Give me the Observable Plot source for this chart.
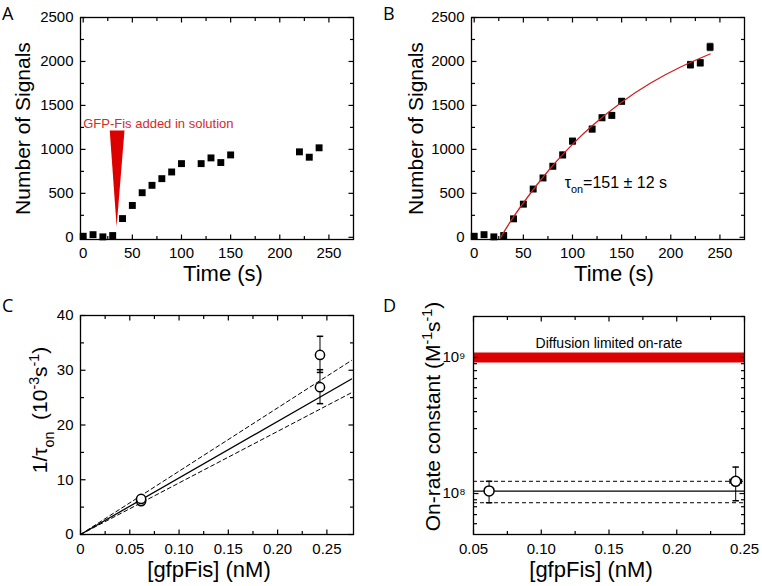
<!DOCTYPE html>
<html><head><meta charset="utf-8">
<script src="https://cdn.jsdelivr.net/npm/d3@7"></script>
<script src="https://cdn.jsdelivr.net/npm/@observablehq/plot@0.6"></script>
<style>
body{margin:0;background:#fff;}
#fig{position:relative;width:762px;height:586px;overflow:hidden;font-family:"Liberation Sans",Arial,sans-serif;background:#fff;}
#fig svg{position:absolute;overflow:visible;}
.letter{position:absolute;font-family:"Open Sans",sans-serif;font-size:18px;line-height:22px;color:#000;}
</style></head><body><div id="fig"></div>
<script>
// ---------- data ----------
const timeS = [0,10,20,30,40,50,60,70,80,90,100,120,130,140,150,220,230,240];
const signalsA = [12,30,5,20,213,362,507,591,667,743,838,838,903,850,937,972,911,1018];
const signalsB = [12,30,5,20,210,377,549,675,808,937,1094,1231,1360,1387,1547,1963,1985,2165];
const errB = [15,20,10,15,25,25,25,25,25,30,30,30,30,30,30,35,35,40];
const fitTimeB = [27,40,60,80,100,120,150,180,210,240];
const fitSignalsB = [0,232,541,817,1057,1270,1537,1758,1937,2085];
const arrowTime = [27,42,34];
const arrowSignals = [1215,1215,120];
const annotA = {text: ["GFP-Fis added in solution"], time: [0], signals: [1240]};
const annotB = {text: ["τ_{on}=151 ± 12 s"], time: [92], signals: [560]};

const concC = [0.0615, 0.0615, 0.243, 0.243];
const rateC = [6.1, 6.5, 32.8, 26.9];
const rateLoC = [5.5, 5.9, 29.6, 23.9];
const rateHiC = [6.7, 7.1, 36.2, 30.1];
const concErrC = [0.002, 0.002, 0.0015, 0.0015];
const fitConcC = [0, 0.275];
const fitMidC = [0, 28.4];
const fitUpperC = [0, 31.8];
const fitLowerC = [0, 25.9];

const concD = [0.0615, 0.2435];
const konD = [1.046e8, 1.229e8];
const konLoD = [0.856e8, 0.885e8];
const konHiD = [1.23e8, 1.565e8];
const concErrD = [0, 0.0042];
const konFitD = [1.04e8];
const konFitBoundsD = [1.23e8, 0.856e8];
const diffusionLimitD = [1e9];
const annotD = {text: ["Diffusion limited on-rate"], conc: [0.15], kon: [1e9]};

// ticks
const timeTicks = [0,50,100,150,200,250];
const timeMinor = [25,75,125,175,225];
const signalTicks = [0,500,1000,1500,2000,2500];
const signalMinor = [250,750,1250,1750,2250];
const concTicksC = [0,0.05,0.10,0.15,0.20,0.25];
const concMinorC = [0.025,0.075,0.125,0.175,0.225];
const rateTicks = [0,10,20,30,40];
const rateMinor = [5,15,25,35];
const concTicksD = [0.05,0.10,0.15,0.20,0.25];
const concMinorD = [0.075,0.125,0.175,0.225];
const konTicks = [1e8,1e9];
const konMinor = [6e7,7e7,8e7,9e7,2e8,3e8,4e8,5e8,6e8,7e8,8e8,9e8,2e9];
const konTickLabels = ["10⁸","10⁹"];

// ---------- helpers ----------
const RED = "#dc0000";
const capH = {draw(ctx, size){ const r = Math.sqrt(size/Math.PI); ctx.moveTo(-r,0); ctx.lineTo(r,0);} };
const capV = {draw(ctx, size){ const r = Math.sqrt(size/Math.PI); ctx.moveTo(0,-r); ctx.lineTo(0,r);} };
const stub = (ux, uy) => ({draw(ctx, size){ const l = Math.sqrt(size/Math.PI); ctx.moveTo(0,0); ctx.lineTo(ux*l, uy*l);} });
const tickUp = stub(0,-1), tickDown = stub(0,1), tickRight = stub(1,0), tickLeft = stub(-1,0);

function frameAxes({xMajor, xMinor, yMajor, yMinor, xFormat = d => String(d), yFormat = d => String(d), xPad = 8, yPad = 7}) {
  const st = {stroke: "black", strokeWidth: 1.2, fill: "none"};
  const xt = (ticks, len) => [
    Plot.dot(ticks, {x: d => d, frameAnchor: "bottom", symbol: tickUp, r: len, ...st}),
    Plot.dot(ticks, {x: d => d, frameAnchor: "top", symbol: tickDown, r: len, ...st})
  ];
  const yt = (ticks, len) => [
    Plot.dot(ticks, {y: d => d, frameAnchor: "left", symbol: tickRight, r: len, ...st}),
    Plot.dot(ticks, {y: d => d, frameAnchor: "right", symbol: tickLeft, r: len, ...st})
  ];
  return [
    ...xt(xMajor, 5), ...xt(xMinor, 3.5), ...yt(yMajor, 5), ...yt(yMinor, 3.5),
    Plot.axisX({anchor: "bottom", ticks: xMajor, tickSize: 0, tickPadding: xPad, tickFormat: xFormat, label: null, fill: "black", fontSize: 15}),
    Plot.axisY({anchor: "left", ticks: yMajor, tickSize: 0, tickPadding: yPad, tickFormat: yFormat, label: null, fill: "black", fontSize: 15}),
    Plot.frame({stroke: "black", strokeWidth: 1.3})
  ];
}
function xTitle(t, dx, dy) {
  return Plot.text([t], {frameAnchor: "bottom", lineAnchor: "bottom", textAnchor: "middle", dx, dy, fontSize: 22, fill: "black"});
}
function yTitle(t, dx, dy) {
  return Plot.text([t], {frameAnchor: "left", lineAnchor: "top", textAnchor: "middle", rotate: -90, dx, dy, fontSize: 21, fill: "black"});
}
const style = {fontFamily: "'Liberation Sans', Arial, sans-serif", fontSize: "15px", color: "black", background: "transparent", overflow: "visible"};

function richify(svg) {
  svg.querySelectorAll("text").forEach(t => {
    const s = t.textContent;
    if (!/[_^]\{/.test(s)) return;
    const fs = parseFloat(getComputedStyle(t).fontSize);
    t.textContent = "";
    let cur = 0;
    const re = /([_^])\{([^}]*)\}|([^_^]+)/g; let m;
    while ((m = re.exec(s))) {
      const ts = document.createElementNS("http://www.w3.org/2000/svg", "tspan");
      let target = 0, size = fs;
      if (m[1]) { target = m[1] === "_" ? 0.32 * fs : -0.42 * fs; size = 0.68 * fs; ts.textContent = m[2]; }
      else ts.textContent = m[3];
      ts.setAttribute("dy", target - cur); cur = target;
      ts.setAttribute("font-size", size);
      t.appendChild(ts);
    }
  });
}

const fig = document.getElementById("fig");
function place(svg, left, top) {
  svg.style.left = left + "px"; svg.style.top = top + "px";
  fig.appendChild(svg);
  richify(svg);
}
function letter(ch, left, top) {
  const d = document.createElement("div");
  d.className = "letter"; d.textContent = ch;
  d.style.left = left + "px"; d.style.top = top + "px";
  fig.appendChild(d);
}

// ---------- Panel A ----------
const dataA = timeS.map((t, i) => ({t, s: signalsA[i]}));
const tri = arrowTime.map((t, i) => ({t, s: arrowSignals[i]}));
const A = Plot.plot({
  width: 381, height: 293, marginLeft: 80, marginRight: 28, marginTop: 17, marginBottom: 54,
  style,
  x: {domain: [-2.75, 275]},
  y: {domain: [-25, 2500]},
  marks: [
    Plot.line(tri, {x: "t", y: "s", fill: RED, stroke: "none"}),
    Plot.text(annotA.text, {x: annotA.time, y: annotA.signals, text: d => d, textAnchor: "start", lineAnchor: "bottom", fill: "#d42a2a", fontSize: 13}),
    Plot.dot(dataA, {x: "t", y: "s", symbol: "square", r: 3.9, fill: "black"}),
    ...frameAxes({xMajor: timeTicks, xMinor: timeMinor, yMajor: signalTicks, yMinor: signalMinor}),
    xTitle("Time (s)", 6, 41),
    yTitle("Number of Signals", -65, 0)
  ]
});
place(A, 0, 0);

// ---------- Panel B ----------
const dataB = timeS.map((t, i) => ({t, s: signalsB[i], lo: signalsB[i] - errB[i], hi: signalsB[i] + errB[i]}));
const fitB = fitTimeB.map((t, i) => ({t, s: fitSignalsB[i]}));
const B = Plot.plot({
  width: 381, height: 293, marginLeft: 90, marginRight: 18, marginTop: 17, marginBottom: 54,
  style,
  x: {domain: [-2.75, 275]},
  y: {domain: [-25, 2500]},
  marks: [
    Plot.ruleX(dataB, {x: "t", y1: "lo", y2: "hi", stroke: "#555", strokeWidth: 1}),
    Plot.dot(dataB, {x: "t", y: "lo", symbol: capH, r: 3, stroke: "#555", fill: "none"}),
    Plot.dot(dataB, {x: "t", y: "hi", symbol: capH, r: 3, stroke: "#555", fill: "none"}),
    Plot.dot(dataB, {x: "t", y: "s", symbol: "square", r: 3.9, fill: "black"}),
    Plot.line(fitB, {x: "t", y: "s", stroke: "#cc2020", strokeWidth: 1.3, curve: "natural"}),
    Plot.text(annotB.text, {x: annotB.time, y: annotB.signals, text: d => d, textAnchor: "start", lineAnchor: "bottom", fill: "black", fontSize: 16}),
    ...frameAxes({xMajor: timeTicks, xMinor: timeMinor, yMajor: signalTicks, yMinor: signalMinor}),
    xTitle("Time (s)", 6, 41),
    yTitle("Number of Signals", -63, 0)
  ]
});
place(B, 381, 0);

// ---------- Panel C ----------
const dataC = concC.map((c, i) => ({c, r: rateC[i], lo: rateLoC[i], hi: rateHiC[i], cl: c - concErrC[i], ch: c + concErrC[i]}));
const fitC = fitConcC.map((c, i) => ({c, mid: fitMidC[i], up: fitUpperC[i], low: fitLowerC[i]}));
const fmtC = d => d === 0 ? "0" : d.toFixed(2);
const C = Plot.plot({
  width: 381, height: 293, marginLeft: 80, marginRight: 28, marginTop: 22, marginBottom: 52,
  style,
  x: {domain: [0, 0.277]},
  y: {domain: [0, 40]},
  marks: [
    Plot.line(fitC, {x: "c", y: "mid", stroke: "black", strokeWidth: 1.3}),
    Plot.line(fitC, {x: "c", y: "up", stroke: "black", strokeWidth: 1, strokeDasharray: "4,3"}),
    Plot.line(fitC, {x: "c", y: "low", stroke: "black", strokeWidth: 1, strokeDasharray: "4,3"}),
    Plot.ruleX(dataC, {x: "c", y1: "lo", y2: "hi", stroke: "black", strokeWidth: 1}),
    Plot.dot(dataC, {x: "c", y: "lo", symbol: capH, r: 3.2, stroke: "black", fill: "none"}),
    Plot.dot(dataC, {x: "c", y: "hi", symbol: capH, r: 3.2, stroke: "black", fill: "none"}),
    Plot.ruleY(dataC, {y: "r", x1: "cl", x2: "ch", stroke: "black", strokeWidth: 1}),
    Plot.dot(dataC, {x: "cl", y: "r", symbol: capV, r: 2.5, stroke: "black", fill: "none"}),
    Plot.dot(dataC, {x: "ch", y: "r", symbol: capV, r: 2.5, stroke: "black", fill: "none"}),
    Plot.dot(dataC, {x: "c", y: "r", r: 4.6, stroke: "black", strokeWidth: 1.5, fill: "white"}),
    ...frameAxes({xMajor: concTicksC, xMinor: concMinorC, yMajor: rateTicks, yMinor: rateMinor, xFormat: fmtC, xPad: 9}),
    xTitle("[gfpFis] (nM)", -8, 42),
    yTitle("1/τ_{on}  (10^{-3}s^{-1})", -48, -15)
  ]
});
place(C, 0, 293);

// ---------- Panel D ----------
const dataD = concD.map((c, i) => ({c, k: konD[i], lo: konLoD[i], hi: konHiD[i], cl: c - concErrD[i], ch: c + concErrD[i]}));
const withXErr = dataD.filter(d => d.ch > d.cl);
const D = Plot.plot({
  width: 381, height: 293, marginLeft: 92, marginRight: 18, marginTop: 23, marginBottom: 52,
  style,
  x: {domain: [0.05, 0.25]},
  y: {type: "log", domain: [5e7, 2e9]},
  marks: [
    Plot.ruleY(diffusionLimitD, {stroke: RED, strokeWidth: 10}),
    Plot.text(annotD.text, {x: annotD.conc, y: annotD.kon, text: d => d, textAnchor: "middle", lineAnchor: "bottom", dy: -9, fill: "black", fontSize: 14}),
    Plot.ruleY(konFitD, {stroke: "black", strokeWidth: 1.3}),
    Plot.ruleY(konFitBoundsD, {stroke: "black", strokeWidth: 1, strokeDasharray: "4,3"}),
    Plot.ruleX(dataD, {x: "c", y1: "lo", y2: "hi", stroke: "black", strokeWidth: 1}),
    Plot.dot(dataD, {x: "c", y: "lo", symbol: capH, r: 3.2, stroke: "black", fill: "none"}),
    Plot.dot(dataD, {x: "c", y: "hi", symbol: capH, r: 3.2, stroke: "black", fill: "none"}),
    Plot.ruleY(withXErr, {y: "k", x1: "cl", x2: "ch", stroke: "black", strokeWidth: 1}),
    Plot.dot(withXErr, {x: "cl", y: "k", symbol: capV, r: 2.5, stroke: "black", fill: "none"}),
    Plot.dot(withXErr, {x: "ch", y: "k", symbol: capV, r: 2.5, stroke: "black", fill: "none"}),
    Plot.dot(dataD, {x: "c", y: "k", r: 5, stroke: "black", strokeWidth: 1.5, fill: "white"}),
    ...frameAxes({xMajor: concTicksD, xMinor: concMinorD, yMajor: konTicks, yMinor: konMinor, xFormat: d => d.toFixed(2), yFormat: d => konTickLabels[konTicks.indexOf(d)], xPad: 9, yPad: 8}),
    xTitle("[gfpFis] (nM)", -18, 42),
    yTitle("On-rate constant (M^{-1}s^{-1})", -48, -9)
  ]
});
place(D, 381, 293);

letter("A", 2, 2);
letter("B", 383, 2);
letter("C", 2, 294);
letter("D", 383, 294);
</script>
</body></html>
